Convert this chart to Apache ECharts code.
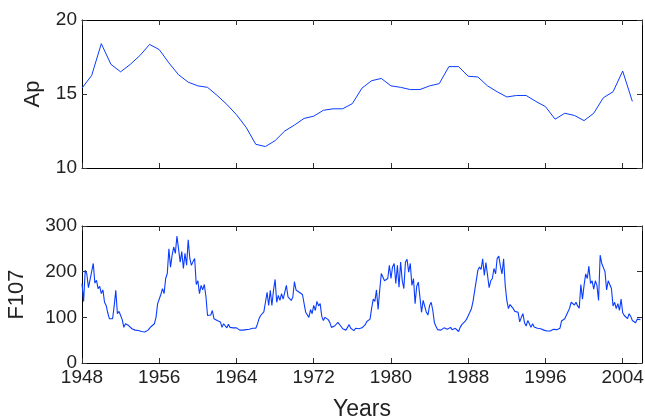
<!DOCTYPE html>
<html>
<head>
<meta charset="utf-8">
<script src="https://cdn.jsdelivr.net/npm/echarts@6/dist/echarts.min.js"></script>
<style>
  html, body { margin: 0; padding: 0; background: #fff; }
  #chart { width: 645px; height: 418px; }
</style>
</head>
<body>
<div id="chart"></div>
<script>
// yearly Ap index
const apYears = [
  1948, 1949, 1950, 1951, 1952, 1953, 1954, 1955, 1956, 1957,
  1958, 1959, 1960, 1961, 1962, 1963, 1964, 1965, 1966, 1967,
  1968, 1969, 1970, 1971, 1972, 1973, 1974, 1975, 1976, 1977,
  1978, 1979, 1980, 1981, 1982, 1983, 1984, 1985, 1986, 1987,
  1988, 1989, 1990, 1991, 1992, 1993, 1994, 1995, 1996, 1997,
  1998, 1999, 2000, 2001, 2002, 2003, 2004, 2005
]
const apValues = [
  15.4, 16.25, 18.4, 17.0, 16.5, 17.0, 17.6, 18.35, 18.0, 17.1,
  16.3, 15.8, 15.55, 15.45, 14.9, 14.3, 13.6, 12.75, 11.6, 11.45,
  11.85, 12.5, 12.9, 13.35, 13.5, 13.9, 14.0, 14.0, 14.35, 15.4,
  15.9, 16.05, 15.55, 15.45, 15.3, 15.3, 15.55, 15.7, 16.85, 16.85,
  16.2, 16.15, 15.55, 15.15, 14.8, 14.9, 14.9, 14.5, 14.15, 13.3,
  13.7, 13.55, 13.2, 13.7, 14.75, 15.15, 16.55, 14.5
]

// F10.7 flux, six samples per year (every two months) from 1948
const f107Start = 1948
const f107PerYear = 6
const f107Values = [
  174, 135, 203, 195, 165, 168,   // 1948
  200, 218, 175, 181, 163, 168,   // 1949
  152, 160, 133, 126, 110, 97,    // 1950
  100, 97, 125, 159, 108, 113,    // 1951
  104, 95, 78, 86, 88, 82,        // 1952
  78, 75, 76, 72, 73, 71,         // 1953
  70, 69, 67, 68, 69, 72,         // 1954
  73, 80, 81, 86, 100, 130,       // 1955
  133, 150, 163, 152, 185, 196,   // 1956
  250, 210, 236, 254, 240, 278,   // 1957
  250, 221, 244, 207, 240, 214,   // 1958
  270, 229, 214, 222, 229, 172,   // 1959
  180, 152, 170, 160, 172, 146,   // 1960
  104, 100, 105, 115, 97, 100,    // 1961
  93, 97, 90, 78, 86, 82,         // 1962
  77, 85, 78, 82, 77, 78,         // 1963
  77, 74, 72, 71, 72, 73,         // 1964
  73, 75, 74, 75, 76, 75,         // 1965
  76, 85, 97, 104, 108, 112,      // 1966
  133, 155, 126, 159, 126, 159,   // 1967
  183, 133, 148, 137, 152, 140,   // 1968
  140, 170, 145, 144, 137, 144,   // 1969
  178, 160, 160, 155, 153, 150,   // 1970
  152, 111, 111, 100, 117, 108,   // 1971
  126, 115, 135, 125, 130, 102,   // 1972
  93, 100, 100, 95, 89, 78,       // 1973
  78, 81, 85, 89, 93, 80,         // 1974
  75, 71, 72, 76, 84, 76,         // 1975
  75, 71, 76, 72, 75, 73,         // 1976
  77, 76, 84, 91, 90, 96,         // 1977
  120, 140, 135, 160, 117, 160,   // 1978
  196, 195, 180, 177, 185, 214,   // 1979
  185, 211, 218, 174, 214, 166,   // 1980
  221, 181, 163, 221, 227, 199,   // 1981
  218, 170, 185, 130, 168, 177,   // 1982
  181, 111, 137, 133, 111, 105,   // 1983
  126, 133, 115, 88, 80, 73,      // 1984
  72, 72, 75, 77, 76, 74,         // 1985
  75, 78, 73, 71, 76, 73,         // 1986
  69, 78, 84, 82, 91, 96,         // 1987
  97, 111, 119, 135, 158, 157,    // 1988
  203, 210, 205, 228, 192, 220,   // 1989
  221, 165, 180, 185, 207, 195,   // 1990
  229, 234, 212, 195, 228, 170,   // 1991
  137, 119, 128, 130, 119, 113,   // 1992
  115, 111, 90, 100, 108, 88,     // 1993
  81, 93, 86, 78, 86, 79,         // 1994
  78, 76, 76, 75, 74, 72,         // 1995
  71, 70, 69, 70, 72, 74,         // 1996
  75, 73, 74, 76, 92, 89,         // 1997
  97, 100, 112, 120, 133, 136,    // 1998
  127, 133, 125, 120, 172, 140,   // 1999
  170, 195, 185, 212, 174, 180,   // 2000
  162, 180, 170, 137, 236, 218,   // 2001
  222, 200, 160, 180, 177, 163,   // 2002
  125, 133, 119, 130, 115, 140,   // 2003
  110, 104, 105, 97, 108, 102,    // 2004
  93, 95, 88, 96, 95, 95          // 2005
]

const xTicks = { min: 1948, max: 2006, interval: 8 }
const apTicks = { min: 10, max: 20, interval: 5 }
const f107Ticks = { min: 0, max: 300, interval: 100 }

const apData = apYears.map((y, i) => [y, apValues[i]])
const f107Data = f107Values.map((v, i) => [f107Start + i / f107PerYear, v])

const lineColor = '#0a3cff'
const textColor = '#222'
const font = 'Liberation Sans, Arial, Helvetica, sans-serif'

function xAxis(gridIndex, position, showLabels) {
  return {
    type: 'value',
    gridIndex: gridIndex,
    position: position,
    min: xTicks.min,
    max: xTicks.max,
    interval: xTicks.interval,
    axisLine: { show: true, onZero: false, lineStyle: { color: '#000', width: 1 } },
    axisTick: { show: true, inside: true, length: 5, lineStyle: { color: '#333' } },
    axisLabel: {
      show: showLabels,
      showMaxLabel: false,
      formatter: v => String(v),
      color: textColor,
      fontSize: 19,
      fontFamily: font,
      margin: 5
    },
    splitLine: { show: false }
  }
}

function yAxis(gridIndex, position, ticks, name, nameGap) {
  return {
    type: 'value',
    gridIndex: gridIndex,
    position: position,
    min: ticks.min,
    max: ticks.max,
    interval: ticks.interval,
    name: name,
    nameLocation: 'middle',
    nameGap: nameGap,
    nameTextStyle: { color: textColor, fontSize: 22, fontFamily: font },
    axisLine: { show: true, onZero: false, lineStyle: { color: '#000', width: 1 } },
    axisTick: { show: true, inside: true, length: 5, lineStyle: { color: '#333' } },
    axisLabel: {
      show: position === 'left',
      color: textColor,
      fontSize: 19,
      fontFamily: font,
      margin: 5
    },
    splitLine: { show: false }
  }
}

const chart = echarts.init(document.getElementById('chart'))

const bottomX = xAxis(1, 'bottom', true)
bottomX.name = 'Years'
bottomX.nameLocation = 'middle'
bottomX.nameGap = 35
bottomX.nameTextStyle = { color: textColor, fontSize: 23, fontFamily: font }

chart.setOption({
  animation: false,
  backgroundColor: '#fff',
  grid: [
    { left: 82, right: 3, top: 20, height: 148, outerBoundsMode: 'none' },
    { left: 82, right: 3, top: 226, height: 137, outerBoundsMode: 'none' }
  ],
  xAxis: [
    xAxis(0, 'bottom', false),
    xAxis(0, 'top', false),
    bottomX,
    xAxis(1, 'top', false)
  ],
  yAxis: [
    yAxis(0, 'left', apTicks, 'Ap', 38),
    yAxis(0, 'right', apTicks, '', 0),
    yAxis(1, 'left', f107Ticks, 'F107', 54),
    yAxis(1, 'right', f107Ticks, '', 0)
  ],
  series: [
    {
      name: 'Ap',
      type: 'line',
      xAxisIndex: 0,
      yAxisIndex: 0,
      data: apData,
      showSymbol: false,
      lineStyle: { color: lineColor, width: 1 }
    },
    {
      name: 'F107',
      type: 'line',
      xAxisIndex: 2,
      yAxisIndex: 2,
      data: f107Data,
      showSymbol: false,
      lineStyle: { color: lineColor, width: 1.1 }
    }
  ]
})
</script>
</body>
</html>
